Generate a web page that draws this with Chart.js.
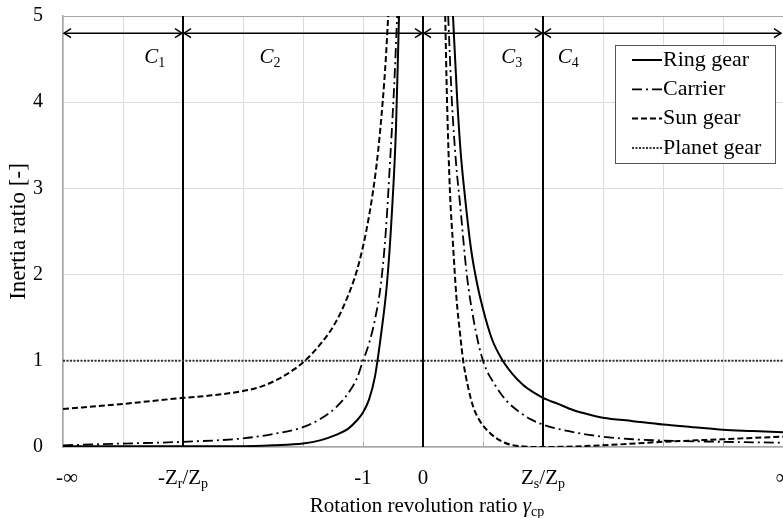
<!DOCTYPE html>
<html>
<head>
<meta charset="utf-8">
<script src="https://cdn.jsdelivr.net/npm/chart.js@4.4.0/dist/chart.umd.min.js"></script>
<style>
  body { margin: 0; background: #fff; }
  canvas { display: block; }
</style>
</head>
<body>
<canvas id="myChart" width="783" height="518"></canvas>
<script>
const FONT = "'Liberation Serif', 'Times New Roman', serif";

// x axis is a mapped scale 0..12, labelled with the symbolic ratios
// markup: "_c" = subscript char, "*c" = italic char
const tickValues = [0, 2, 5, 6, 8, 12];
const tickLabels = ["-\u221E", "-Z_r/Z_p", "-1", "0", "Z_s/Z_p", "\u221E"];

const boundaryX = [2, 6, 8];
const regionEdges = [0, 2, 6, 8, 12];
const regionNames = ["*C_1", "*C_2", "*C_3", "*C_4"];
const regionLabelX = [1.53, 3.45, 7.48, 8.42];
const arrowY = 4.8;
const regionLabelY = 4.52;

const seriesNames = ["Ring gear", "Carrier", "Sun gear", "Planet gear"];

// a null at x=6 splits each curve into its two branches
const ringX = [0, 2, 3, 3.5, 4.0, 4.3, 4.55, 4.75, 4.9, 5.0, 5.1, 5.2, 5.3, 5.4, 5.48, 5.55, 5.6,
  6,
  6.5, 6.57, 6.63, 6.7, 6.8, 6.9, 7.0, 7.15, 7.33, 7.5, 7.67, 7.85, 8.0, 8.25, 8.5, 8.75, 9, 9.5, 10, 10.5, 11, 11.5, 12];
const ringY = [0.01, 0.01, 0.01, 0.02, 0.04, 0.08, 0.14, 0.21, 0.31, 0.4, 0.55, 0.82, 1.3, 1.9, 2.7, 3.7, 5.0,
  null,
  5.0, 4.03, 3.4, 2.9, 2.3, 1.9, 1.6, 1.25, 1.0, 0.84, 0.72, 0.63, 0.57, 0.5, 0.43, 0.38, 0.34, 0.3, 0.26, 0.23, 0.2, 0.185, 0.17];

const carrierX = [0, 1, 2, 3, 3.5, 4.0, 4.3, 4.55, 4.75, 4.9, 5.0, 5.1, 5.2, 5.3, 5.38, 5.45, 5.52, 5.57,
  6,
  6.42, 6.48, 6.55, 6.62, 6.73, 6.85, 7.0, 7.2, 7.4, 7.6, 7.8, 8.0, 8.45, 9, 9.5, 10, 11, 12];
const carrierY = [0.02, 0.04, 0.06, 0.1, 0.15, 0.23, 0.33, 0.46, 0.62, 0.8, 1.0, 1.2, 1.48, 1.9, 2.5, 3.3, 4.2, 5.0,
  null,
  5.0, 4.03, 3.3, 2.8, 2.0, 1.45, 1.0, 0.72, 0.53, 0.41, 0.32, 0.26, 0.18, 0.12, 0.09, 0.075, 0.06, 0.05];

const sunX = [0, 1, 2, 2.5, 3, 3.3, 3.62, 3.85, 4.03, 4.25, 4.45, 4.6, 4.73, 4.85, 4.95, 5.05, 5.17, 5.25, 5.33, 5.38, 5.42,
  6,
  6.37, 6.4, 6.45, 6.5, 6.56, 6.62, 6.67, 6.75, 6.84, 6.95, 7.12, 7.3, 7.5, 8, 9, 10, 11, 12];
const sunY = [0.44, 0.5, 0.57, 0.6, 0.65, 0.7, 0.8, 0.9, 1.0, 1.16, 1.34, 1.52, 1.72, 1.94, 2.18, 2.49, 2.98, 3.42, 4.02, 4.5, 5.0,
  null,
  5.0, 4.03, 2.95, 2.35, 1.71, 1.3, 1.0, 0.7, 0.46, 0.3, 0.16, 0.07, 0.02, 0.0, 0.02, 0.06, 0.09, 0.12];

const planetX = [0, 12];
const planetY = [1, 1];

document.addEventListener("DOMContentLoaded", function() {
  const toPoints = (xs, ys) => xs.map((x, i) => ({ x: x, y: ys[i] }));

  let boundaryPts = [];
  boundaryX.forEach((b) => {
    boundaryPts.push({ x: b, y: 0 }, { x: b, y: 5 }, { x: b, y: null });
  });

  function drawRich(ctx, text, x, y, size, align) {
    const runs = [];
    for (let i = 0; i < text.length; i++) {
      let c = text[i];
      let style = "n";
      if ((c === "_" || c === "*") && i + 1 < text.length) {
        style = c === "_" ? "s" : "i";
        c = text[++i];
      }
      const last = runs[runs.length - 1];
      if (last && last.style === style) last.t += c;
      else runs.push({ t: c, style: style });
    }
    const fontOf = (s) => (s === "i" ? "italic " : "") + Math.round(s === "s" ? size * 0.68 : size) + "px " + FONT;
    let w = 0;
    runs.forEach((r) => {
      ctx.font = fontOf(r.style);
      r.w = ctx.measureText(r.t).width;
      w += r.w;
    });
    let cx = align === "left" ? x : x - w / 2;
    ctx.textBaseline = "middle";
    ctx.textAlign = "left";
    ctx.fillStyle = "#000";
    runs.forEach((r) => {
      ctx.font = fontOf(r.style);
      ctx.fillText(r.t, cx, r.style === "s" ? y + size * 0.3 : y);
      cx += r.w;
    });
  }

  function arrowHead(ctx, tx, ty, dir) {
    ctx.beginPath();
    ctx.moveTo(tx - dir * 7, ty - 4.5);
    ctx.lineTo(tx, ty);
    ctx.lineTo(tx - dir * 7, ty + 4.5);
    ctx.stroke();
  }

  const annotations = {
    id: "annotations",
    beforeDatasetsDraw(chart) {
      // small inside tick marks on the bottom axis
      const ctx = chart.ctx;
      const xs = chart.scales.x;
      const area = chart.chartArea;
      ctx.save();
      ctx.strokeStyle = "#a6a6a6";
      ctx.lineWidth = 1;
      for (let v = 1; v < 12; v++) {
        const px = Math.round(xs.getPixelForValue(v)) + 0.5;
        ctx.beginPath();
        ctx.moveTo(px, area.bottom);
        ctx.lineTo(px, area.bottom - 5);
        ctx.stroke();
      }
      ctx.restore();
    },
    afterDraw(chart) {
      const ctx = chart.ctx;
      const xs = chart.scales.x;
      const ys = chart.scales.y;
      const area = chart.chartArea;
      ctx.save();

      // region arrows
      const ay = ys.getPixelForValue(arrowY);
      ctx.strokeStyle = "#000";
      ctx.lineWidth = 1.5;
      for (let i = 0; i < regionEdges.length - 1; i++) {
        const x1 = xs.getPixelForValue(regionEdges[i]) + 1;
        const x2 = Math.min(xs.getPixelForValue(regionEdges[i + 1]), area.right - 1) - 1;
        ctx.beginPath();
        ctx.moveTo(x1, ay);
        ctx.lineTo(x2, ay);
        ctx.stroke();
        arrowHead(ctx, x1, ay, -1);
        arrowHead(ctx, x2, ay, 1);
      }
      regionNames.forEach((n, i) => {
        drawRich(ctx, n, xs.getPixelForValue(regionLabelX[i]), ys.getPixelForValue(regionLabelY), 21);
      });

      // legend box
      const bw = 160, bh = 118;
      const bx = area.right - 168, by = area.top + 29;
      ctx.fillStyle = "#fff";
      ctx.fillRect(bx, by, bw, bh);
      ctx.strokeStyle = "#555";
      ctx.lineWidth = 1;
      ctx.setLineDash([]);
      ctx.strokeRect(bx + 0.5, by + 0.5, bw, bh);
      seriesNames.forEach((name, i) => {
        const ds = chart.data.datasets[i];
        const ry = by + 15 + i * 29.3;
        ctx.strokeStyle = ds.borderColor;
        ctx.lineWidth = ds.borderWidth;
        ctx.setLineDash(ds.borderDash || []);
        ctx.beginPath();
        ctx.moveTo(bx + 17, ry);
        ctx.lineTo(bx + 47, ry);
        ctx.stroke();
        ctx.setLineDash([]);
        drawRich(ctx, name, bx + 48, ry, 21.5, "left");
      });

      // x tick labels and axis title
      tickValues.forEach((v, i) => {
        drawRich(ctx, tickLabels[i], xs.getPixelForValue(v) + (i === 0 ? 4 : 0), area.bottom + 31, 21);
      });
      drawRich(ctx, "Rotation revolution ratio *\u03B3_c_p", (area.left + area.right) / 2 + 4, area.bottom + 59, 21);
      ctx.restore();
    },
  };

  const data = {
    datasets: [
      {
        label: seriesNames[0],
        data: toPoints(ringX, ringY),
        borderColor: "#000",
        borderWidth: 2,
        borderDash: [],
      },
      {
        label: seriesNames[1],
        data: toPoints(carrierX, carrierY),
        borderColor: "#000",
        borderWidth: 1.8,
        borderDash: [10, 4, 2, 4],
      },
      {
        label: seriesNames[2],
        data: toPoints(sunX, sunY),
        borderColor: "#000",
        borderWidth: 2,
        borderDash: [6, 3],
      },
      {
        label: seriesNames[3],
        data: toPoints(planetX, planetY),
        borderColor: "#333",
        borderWidth: 2,
        borderDash: [2, 1.5],
      },
      {
        label: "boundaries",
        data: boundaryPts,
        borderColor: "#000",
        borderWidth: 2,
        cubicInterpolationMode: "default",
        tension: 0,
      },
    ],
  };

  const config = {
    type: "line",
    data: data,
    options: {
      responsive: false,
      animation: false,
      devicePixelRatio: 1,
      spanGaps: false,
      layout: { padding: { left: 0, right: 0, top: 0, bottom: 71 } },
      elements: {
        point: { radius: 0, hoverRadius: 0 },
        line: { cubicInterpolationMode: "monotone", fill: false },
      },
      plugins: {
        legend: { display: false },
        tooltip: { enabled: false },
      },
      scales: {
        x: {
          type: "linear",
          min: 0,
          max: 12,
          ticks: { display: false, stepSize: 1 },
          grid: { color: "#dcdcdc", drawTicks: false },
          border: { color: "#a6a6a6", width: 1.5 },
        },
        y: {
          min: 0,
          max: 5,
          afterFit: (scale) => { scale.width = 63; },
          ticks: {
            stepSize: 1,
            padding: 4,
            color: "#000",
            font: { family: FONT, size: 20 },
          },
          grid: {
            drawTicks: true,
            tickLength: 16,
            tickColor: "rgba(0,0,0,0)",
            color: (c) => (c.tick && c.tick.value === 5 ? "#a6a6a6" : "#dcdcdc"),
          },
          border: { color: "#a6a6a6", width: 1.5 },
          title: {
            display: true,
            text: "Inertia ratio [-]",
            color: "#000",
            font: { family: FONT, size: 23 },
            padding: { top: 5, bottom: 0 },
          },
        },
      },
    },
    plugins: [annotations],
  };

  const myChart = new Chart(document.getElementById("myChart"), config);
});
</script>
</body>
</html>
